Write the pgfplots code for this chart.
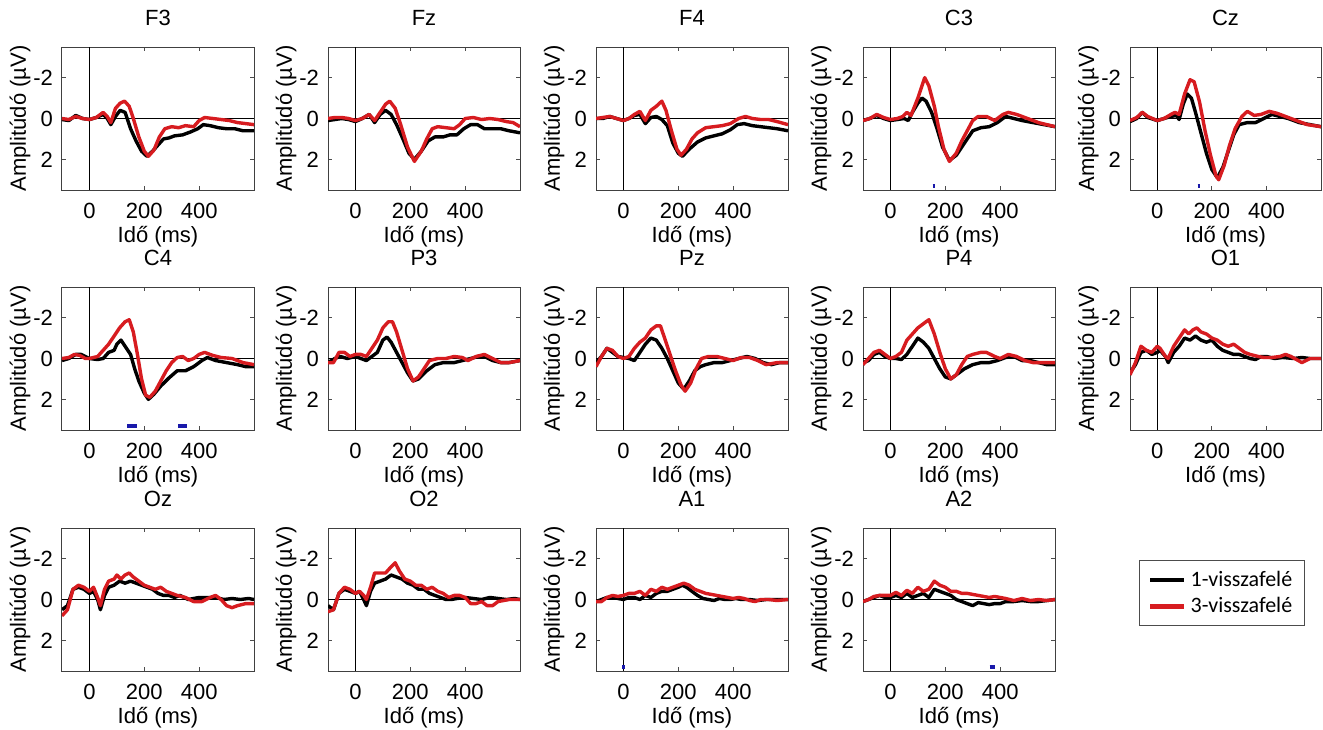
\documentclass[border=0pt]{standalone}
\usepackage{fontspec}
\setmainfont{Liberation Sans}
\newfontfamily\legfont{Carlito}
\usepackage{pgfplots}
\pgfplotsset{compat=1.18}

\definecolor{erpred}{RGB}{215,28,32}
\definecolor{sigblue}{RGB}{25,25,170}
\newcommand{\axfont}{\fontsize{11}{13}\selectfont}

\pgfplotsset{
  eeg/.style={
    scale only axis, width=96pt, height=71.5pt, anchor=north west,
    xmin=-100, xmax=600, ymin=-3.5, ymax=3.5, y dir=reverse,
    xtick={0,200,400}, xticklabels={0,200,400},
    ytick={-2,0,2}, yticklabels={-2,0,2},
    tick align=inside, major tick length=2pt,
    tick style={black!70, line width=0.4pt},
    axis line style={black!75, line width=0.5pt},
    extra x ticks={0}, extra y ticks={0},
    extra x tick labels={}, extra y tick labels={},
    extra tick style={grid=major, major grid style={black, line width=0.5pt}, major tick length=0pt},
    tick label style={font=\axfont},
    xticklabel style={yshift=-3pt},
    yticklabel style={xshift=-1pt},
    xlabel={Idő (ms)}, ylabel={Amplitúdó (µV)},
    label style={font=\axfont},
    xlabel style={at={(axis description cs:0.5,-0.325)}, anchor=center},
    ylabel style={at={(axis description cs:-0.218,0.5)}, anchor=center},
    title style={font=\axfont, at={(axis description cs:0.5,1)}, anchor=base, yshift=5pt},
  },
  k/.style={black, line width=1.7pt, line join=round},
  r/.style={erpred, line width=1.7pt, line join=round},
  sig/.style={sigblue, line width=2pt, forget plot},
}

\begin{document}
\begin{tikzpicture}
\useasboundingbox (0,0) rectangle (661.5pt,-364.5pt);

% ---------- row 1 ----------
\begin{axis}[eeg, at={(31pt,-23.5pt)}, title=F3]
\addplot[k] coordinates {(-100,0.05) (-75,0.1) (-50,-0.15) (-25,0) (0,0.05) (25,-0.05) (50,-0.2) (65,0) (78,0.3) (95,-0.1) (112,-0.4) (130,-0.3) (150,0.5) (170,1.1) (190,1.6) (210,1.85) (230,1.6) (250,1.3) (270,1.0) (290,0.95) (310,0.85) (340,0.8) (370,0.65) (395,0.5) (415,0.3) (440,0.35) (470,0.45) (500,0.5) (530,0.5) (560,0.6) (600,0.6)};
\addplot[r] coordinates {(-100,0) (-75,0.05) (-50,-0.1) (-25,0) (0,0.05) (25,-0.05) (50,-0.3) (65,-0.1) (78,0.2) (95,-0.5) (112,-0.75) (128,-0.85) (145,-0.6) (160,0) (180,0.9) (200,1.6) (215,1.85) (235,1.55) (255,0.9) (275,0.5) (300,0.4) (325,0.45) (350,0.35) (380,0.4) (400,0.1) (420,-0.05) (450,0.0) (480,0.05) (510,0.1) (540,0.2) (570,0.25) (600,0.3)};
\end{axis}

\begin{axis}[eeg, at={(164pt,-23.5pt)}, title=Fz]
\addplot[k] coordinates {(-100,0.1) (-75,0.05) (-50,0) (-25,0.05) (0,0.15) (25,0) (50,-0.2) (70,0.2) (90,-0.2) (110,-0.4) (130,-0.2) (150,0.3) (170,0.9) (195,1.7) (215,2.0) (240,1.6) (265,1.1) (290,0.9) (320,0.9) (345,0.8) (370,0.8) (395,0.5) (420,0.3) (445,0.3) (470,0.5) (500,0.5) (530,0.5) (560,0.6) (600,0.7)};
\addplot[r] coordinates {(-100,0) (-75,-0.05) (-50,-0.05) (-25,0) (0,0.1) (25,0) (50,-0.2) (70,0.1) (90,-0.3) (110,-0.7) (125,-0.85) (145,-0.5) (165,0.3) (190,1.4) (215,2.1) (240,1.6) (260,1.0) (280,0.5) (300,0.4) (330,0.45) (360,0.5) (380,0.3) (400,0.0) (430,-0.05) (460,0.05) (490,0) (520,0.05) (550,0.15) (575,0.2) (600,0.4)};
\end{axis}

\begin{axis}[eeg, at={(298pt,-23.5pt)}, title=F4]
\addplot[k] coordinates {(-100,0) (-75,0) (-50,-0.1) (-25,0) (0,0.1) (20,0) (40,-0.15) (60,-0.2) (80,0.25) (100,-0.05) (120,-0.1) (140,0.05) (160,0.35) (180,1.2) (200,1.7) (215,1.85) (240,1.5) (270,1.15) (300,0.95) (330,0.85) (360,0.75) (390,0.55) (415,0.3) (440,0.25) (470,0.35) (500,0.4) (530,0.45) (560,0.5) (600,0.6)};
\addplot[r] coordinates {(-100,0) (-75,-0.05) (-50,-0.1) (-25,0) (0,0.1) (20,0) (40,-0.2) (60,-0.35) (80,0.1) (100,-0.4) (120,-0.6) (140,-0.85) (155,-0.4) (175,0.6) (195,1.5) (210,1.8) (230,1.5) (250,1.0) (270,0.7) (300,0.45) (330,0.4) (360,0.35) (390,0.25) (420,0.0) (445,-0.1) (470,0) (500,0.05) (530,0.05) (560,0.15) (600,0.3)};
\end{axis}

\begin{axis}[eeg, at={(431.5pt,-23.5pt)}, title=C3]
\addplot[k] coordinates {(-100,0.1) (-75,0) (-50,-0.15) (-25,0) (0,0.1) (25,0.05) (50,0) (65,0.1) (80,-0.3) (100,-0.75) (115,-1.0) (130,-0.85) (150,-0.3) (170,0.5) (190,1.4) (215,2.05) (240,1.8) (260,1.4) (280,1.0) (300,0.6) (330,0.45) (360,0.4) (390,0.2) (420,-0.1) (450,0) (480,0.1) (520,0.2) (560,0.3) (600,0.4)};
\addplot[r] coordinates {(-100,0.1) (-75,0) (-50,-0.2) (-25,-0.05) (0,0.05) (25,0) (45,-0.1) (60,-0.3) (75,-0.15) (100,-1.0) (125,-2.0) (140,-1.6) (160,-0.6) (175,0.4) (195,1.5) (215,2.1) (240,1.7) (260,1.1) (280,0.6) (300,0.1) (320,-0.1) (350,-0.1) (380,0.1) (410,-0.2) (430,-0.3) (460,-0.2) (500,0) (540,0.2) (570,0.3) (600,0.4)};
\addplot[sig] coordinates {(154,3.3) (163,3.3)};
\end{axis}

\begin{axis}[eeg, at={(565pt,-23.5pt)}, width=95.5pt, title=Cz]
\addplot[k] coordinates {(-100,0.15) (-75,0) (-55,-0.3) (-35,-0.05) (0,0.1) (25,0) (50,-0.1) (70,-0.15) (80,0.05) (95,-0.7) (110,-1.2) (125,-1.0) (140,-0.3) (160,0.7) (180,1.7) (200,2.5) (220,2.9) (240,2.4) (260,1.6) (280,0.8) (300,0.3) (330,0.2) (360,0.2) (390,0) (420,-0.2) (450,-0.1) (480,0) (520,0.2) (560,0.3) (600,0.4)};
\addplot[r] coordinates {(-100,0.1) (-75,-0.05) (-55,-0.3) (-35,-0.1) (0,0.1) (25,0) (50,-0.2) (65,-0.3) (80,-0.2) (100,-1.2) (120,-1.9) (135,-1.8) (155,-0.8) (175,0.6) (195,1.8) (215,2.8) (225,3.0) (245,2.3) (265,1.3) (285,0.5) (310,-0.1) (330,-0.35) (355,-0.15) (380,-0.2) (410,-0.35) (440,-0.25) (470,-0.1) (510,0.1) (550,0.3) (600,0.4)};
\addplot[sig] coordinates {(148,3.3) (157,3.3)};
\end{axis}

% ---------- row 2 ----------
\begin{axis}[eeg, at={(31pt,-143.5pt)}, title=C4]
\addplot[k] coordinates {(-100,0.1) (-75,0) (-50,-0.2) (-30,-0.2) (0,0) (30,0.05) (50,0) (70,-0.3) (90,-0.4) (100,-0.7) (115,-0.9) (130,-0.6) (150,-0.2) (165,0.5) (180,1.1) (200,1.7) (215,2.0) (235,1.75) (260,1.35) (290,0.95) (320,0.6) (350,0.6) (380,0.4) (410,0.1) (430,-0.05) (460,0.1) (500,0.2) (540,0.3) (570,0.4) (600,0.4)};
\addplot[r] coordinates {(-100,0) (-75,-0.05) (-55,-0.2) (-35,-0.15) (-15,0) (0,0) (30,-0.1) (50,-0.4) (70,-0.7) (90,-1.1) (110,-1.5) (130,-1.8) (145,-1.9) (160,-1.3) (175,-0.2) (190,1.0) (205,1.8) (220,1.9) (240,1.6) (260,1.1) (280,0.6) (300,0.2) (320,-0.05) (340,-0.1) (360,0.1) (380,0) (400,-0.2) (420,-0.3) (450,-0.15) (480,-0.05) (520,0) (560,0.2) (600,0.3)};
\addplot[sig] coordinates {(138,3.3) (172,3.3)};
\addplot[sig] coordinates {(324,3.3) (355,3.3)};
\end{axis}

\begin{axis}[eeg, at={(164pt,-143.5pt)}, title=P3]
\addplot[k] coordinates {(-100,0.2) (-75,0) (-55,-0.1) (-30,0) (0,-0.1) (20,0) (40,0.1) (60,-0.1) (80,-0.3) (100,-0.9) (115,-1.05) (130,-0.8) (150,-0.3) (170,0.2) (190,0.7) (210,1.1) (230,1.0) (260,0.6) (290,0.3) (320,0.2) (360,0.2) (390,0.1) (420,0) (450,-0.1) (470,-0.1) (500,0.1) (530,0.2) (560,0.2) (600,0.1)};
\addplot[r] coordinates {(-100,0.2) (-80,0.2) (-60,-0.3) (-40,-0.3) (-20,-0.1) (0,-0.2) (20,-0.2) (40,-0.1) (60,-0.5) (80,-0.9) (100,-1.5) (120,-1.8) (135,-1.8) (150,-1.3) (170,-0.4) (190,0.5) (210,1.1) (230,0.9) (250,0.5) (270,0.1) (300,0) (330,0) (360,-0.1) (390,-0.05) (410,0.1) (440,-0.1) (470,-0.2) (500,0) (530,0.2) (560,0.2) (600,0.1)};
\end{axis}

\begin{axis}[eeg, at={(298pt,-143.5pt)}, title=Pz]
\addplot[k] coordinates {(-100,0.2) (-80,-0.1) (-60,-0.5) (-40,-0.3) (-20,-0.1) (0,-0.05) (20,0) (40,0.1) (60,-0.3) (80,-0.7) (100,-1.0) (120,-0.9) (140,-0.5) (160,0) (180,0.6) (200,1.2) (220,1.5) (240,1.1) (260,0.6) (280,0.4) (300,0.3) (330,0.2) (360,0.2) (390,0.1) (420,0) (450,-0.1) (480,0) (510,0.2) (540,0.3) (570,0.2) (600,0.2)};
\addplot[r] coordinates {(-100,0.4) (-80,-0.1) (-60,-0.5) (-40,-0.4) (-20,-0.1) (0,0) (20,-0.1) (40,-0.5) (60,-0.8) (80,-1.0) (100,-1.4) (120,-1.6) (135,-1.6) (150,-1.0) (170,-0.2) (190,0.6) (210,1.3) (225,1.6) (245,1.2) (265,0.5) (285,0) (310,-0.1) (340,-0.1) (370,0) (400,0.1) (430,-0.05) (460,-0.05) (490,0.1) (520,0.3) (560,0.2) (600,0.2)};
\end{axis}

\begin{axis}[eeg, at={(431.5pt,-143.5pt)}, title=P4]
\addplot[k] coordinates {(-100,0.2) (-80,0.1) (-60,-0.2) (-40,-0.3) (-20,-0.1) (0,0) (20,0) (40,0.05) (60,-0.2) (80,-0.6) (100,-1.0) (120,-0.8) (140,-0.5) (160,0) (180,0.5) (200,0.9) (220,1.0) (240,0.8) (270,0.5) (300,0.3) (330,0.2) (360,0.2) (390,0.1) (420,-0.05) (450,-0.1) (480,0.1) (510,0.1) (540,0.2) (570,0.3) (600,0.3)};
\addplot[r] coordinates {(-100,0.3) (-80,0) (-60,-0.3) (-40,-0.4) (-20,-0.2) (0,0) (20,-0.1) (40,-0.3) (60,-0.9) (80,-1.2) (100,-1.5) (120,-1.7) (140,-1.9) (160,-1.2) (180,-0.3) (200,0.5) (220,1.0) (240,0.8) (260,0.3) (280,-0.1) (300,-0.2) (330,-0.3) (350,-0.3) (380,-0.1) (400,0) (430,-0.2) (460,-0.1) (490,0.1) (520,0.2) (560,0.2) (600,0.2)};
\end{axis}

\begin{axis}[eeg, at={(565pt,-143.5pt)}, width=95.5pt, title=O1]
\addplot[k] coordinates {(-100,0.7) (-80,0.3) (-60,-0.3) (-40,-0.4) (-20,-0.2) (0,-0.3) (10,-0.4) (30,-0.1) (40,0.2) (60,-0.3) (80,-0.6) (100,-1.0) (120,-0.9) (140,-1.1) (160,-0.9) (180,-0.8) (200,-0.9) (220,-0.6) (240,-0.4) (260,-0.3) (280,-0.2) (300,-0.2) (320,-0.1) (340,0) (360,0.05) (380,-0.1) (400,-0.1) (430,0) (460,-0.05) (500,0) (530,-0.05) (560,0) (600,0)};
\addplot[r] coordinates {(-100,0.8) (-80,0.2) (-60,-0.6) (-40,-0.4) (-20,-0.3) (0,-0.6) (10,-0.5) (30,-0.1) (40,0) (60,-0.6) (80,-1.0) (100,-1.4) (115,-1.2) (130,-1.4) (145,-1.5) (160,-1.3) (180,-1.2) (200,-1.0) (220,-0.9) (240,-0.7) (260,-0.6) (280,-0.7) (300,-0.5) (320,-0.3) (340,-0.2) (370,-0.1) (390,-0.05) (420,-0.05) (450,-0.1) (470,-0.2) (490,-0.1) (510,0.05) (530,0.2) (560,0) (600,0)};
\end{axis}

% ---------- row 3 ----------
\begin{axis}[eeg, at={(31pt,-264pt)}, title=Oz]
\addplot[k] coordinates {(-100,0.5) (-80,0.3) (-60,-0.5) (-40,-0.6) (-20,-0.5) (0,-0.3) (15,-0.4) (30,0) (40,0.5) (55,-0.2) (70,-0.6) (90,-0.7) (110,-0.9) (130,-0.8) (150,-0.9) (170,-0.8) (190,-0.7) (210,-0.6) (230,-0.5) (250,-0.3) (270,-0.2) (290,-0.2) (310,-0.1) (330,-0.2) (360,0) (380,-0.05) (400,-0.1) (430,-0.1) (460,-0.1) (490,0) (520,-0.05) (550,0) (580,-0.05) (600,0)};
\addplot[r] coordinates {(-100,0.8) (-80,0.5) (-60,-0.5) (-40,-0.7) (-20,-0.6) (0,-0.4) (15,-0.6) (30,-0.1) (40,0.3) (55,-0.5) (70,-0.9) (90,-1.0) (100,-1.2) (115,-1.0) (130,-1.2) (145,-1.3) (160,-1.1) (180,-0.9) (200,-0.7) (220,-0.6) (240,-0.5) (260,-0.6) (280,-0.4) (300,-0.3) (320,-0.2) (350,-0.1) (380,0.1) (410,0.1) (440,-0.1) (460,-0.2) (480,0) (500,0.3) (520,0.4) (540,0.3) (570,0.2) (600,0.2)};
\end{axis}

\begin{axis}[eeg, at={(164pt,-264pt)}, title=O2]
\addplot[k] coordinates {(-100,0.3) (-80,0.5) (-60,-0.3) (-40,-0.5) (-20,-0.4) (0,-0.3) (15,-0.4) (30,0) (40,0.3) (55,-0.4) (70,-0.8) (90,-0.9) (110,-1.0) (130,-1.2) (150,-1.1) (170,-1.0) (190,-0.8) (210,-0.7) (230,-0.5) (250,-0.5) (270,-0.3) (290,-0.2) (310,-0.1) (330,0) (350,0) (370,-0.05) (400,-0.1) (430,-0.05) (460,0) (490,-0.1) (520,-0.05) (550,0) (580,-0.05) (600,0)};
\addplot[r] coordinates {(-100,0.6) (-80,0.5) (-60,-0.3) (-40,-0.6) (-20,-0.5) (0,-0.3) (15,-0.4) (30,-0.2) (40,0) (55,-0.6) (70,-1.3) (90,-1.3) (110,-1.3) (130,-1.6) (145,-1.8) (160,-1.4) (180,-1.0) (200,-0.9) (220,-0.7) (240,-0.7) (260,-0.5) (280,-0.6) (300,-0.4) (320,-0.3) (340,-0.1) (360,-0.2) (380,-0.2) (400,-0.1) (420,0.2) (440,0.2) (460,0.1) (480,0.3) (500,0.3) (520,0.1) (560,0) (600,0)};
\end{axis}

\begin{axis}[eeg, at={(298pt,-264pt)}, title=A1]
\addplot[k] coordinates {(-100,0.1) (-80,0) (-60,-0.1) (-40,-0.1) (-20,-0.05) (0,0) (20,-0.1) (40,-0.1) (60,0) (80,-0.2) (100,-0.1) (120,-0.3) (140,-0.4) (160,-0.4) (180,-0.5) (200,-0.6) (215,-0.7) (230,-0.6) (250,-0.4) (270,-0.2) (290,-0.05) (310,0) (330,0.05) (350,-0.05) (370,0) (390,0) (410,-0.05) (430,0) (460,0) (490,0.05) (520,0) (560,0) (600,0)};
\addplot[r] coordinates {(-100,0.1) (-80,0.1) (-60,-0.1) (-40,-0.2) (-20,-0.15) (0,-0.2) (20,-0.3) (40,-0.3) (60,-0.4) (80,-0.2) (100,-0.5) (120,-0.4) (140,-0.6) (160,-0.5) (180,-0.6) (200,-0.7) (220,-0.8) (240,-0.7) (260,-0.5) (280,-0.4) (300,-0.3) (320,-0.25) (340,-0.2) (360,-0.15) (380,-0.1) (400,-0.05) (420,-0.1) (440,-0.05) (460,0.05) (480,0.1) (500,0) (530,0) (560,0.05) (600,0)};
\addplot[sig] coordinates {(-4,3.3) (4,3.3)};
\end{axis}

\begin{axis}[eeg, at={(431.5pt,-264pt)}, title=A2,
  legend style={at={(axis description cs:1.87,0.545)}, anchor=center,
    draw=black!70, line width=0.5pt, font=\legfont\fontsize{11}{13}\selectfont,
    cells={anchor=west}, inner xsep=4pt, inner ysep=3pt},
  legend image code/.code={\draw[#1, line width=2.4pt] (0pt,0pt) -- (17pt,0pt);}]
\addplot[k] coordinates {(-100,0.1) (-80,0) (-60,-0.1) (-40,-0.2) (-20,-0.1) (0,-0.1) (20,-0.2) (40,-0.1) (60,-0.3) (80,-0.1) (100,-0.2) (120,-0.3) (140,-0.1) (160,-0.5) (180,-0.4) (200,-0.3) (220,-0.2) (240,0) (260,0.1) (280,0.2) (300,0.3) (320,0.15) (340,0.2) (360,0.25) (380,0.2) (400,0.2) (420,0.1) (450,0.1) (480,0.05) (510,0.1) (540,0.1) (570,0.05) (600,0)};
\addlegendentry{1-visszafelé}
\addplot[r] coordinates {(-100,0.1) (-80,0) (-60,-0.15) (-40,-0.2) (-20,-0.2) (0,-0.2) (20,-0.35) (40,-0.2) (60,-0.45) (80,-0.3) (100,-0.6) (120,-0.4) (140,-0.5) (160,-0.9) (180,-0.7) (200,-0.6) (220,-0.4) (240,-0.4) (260,-0.3) (280,-0.3) (300,-0.25) (320,-0.2) (340,-0.15) (360,-0.1) (380,-0.15) (400,-0.1) (420,-0.05) (450,0.05) (480,-0.05) (510,0.05) (540,0) (570,0.05) (600,0)};
\addlegendentry{3-visszafelé}
\addplot[sig] coordinates {(362,3.3) (380,3.3)};
\end{axis}

\end{tikzpicture}
\end{document}
